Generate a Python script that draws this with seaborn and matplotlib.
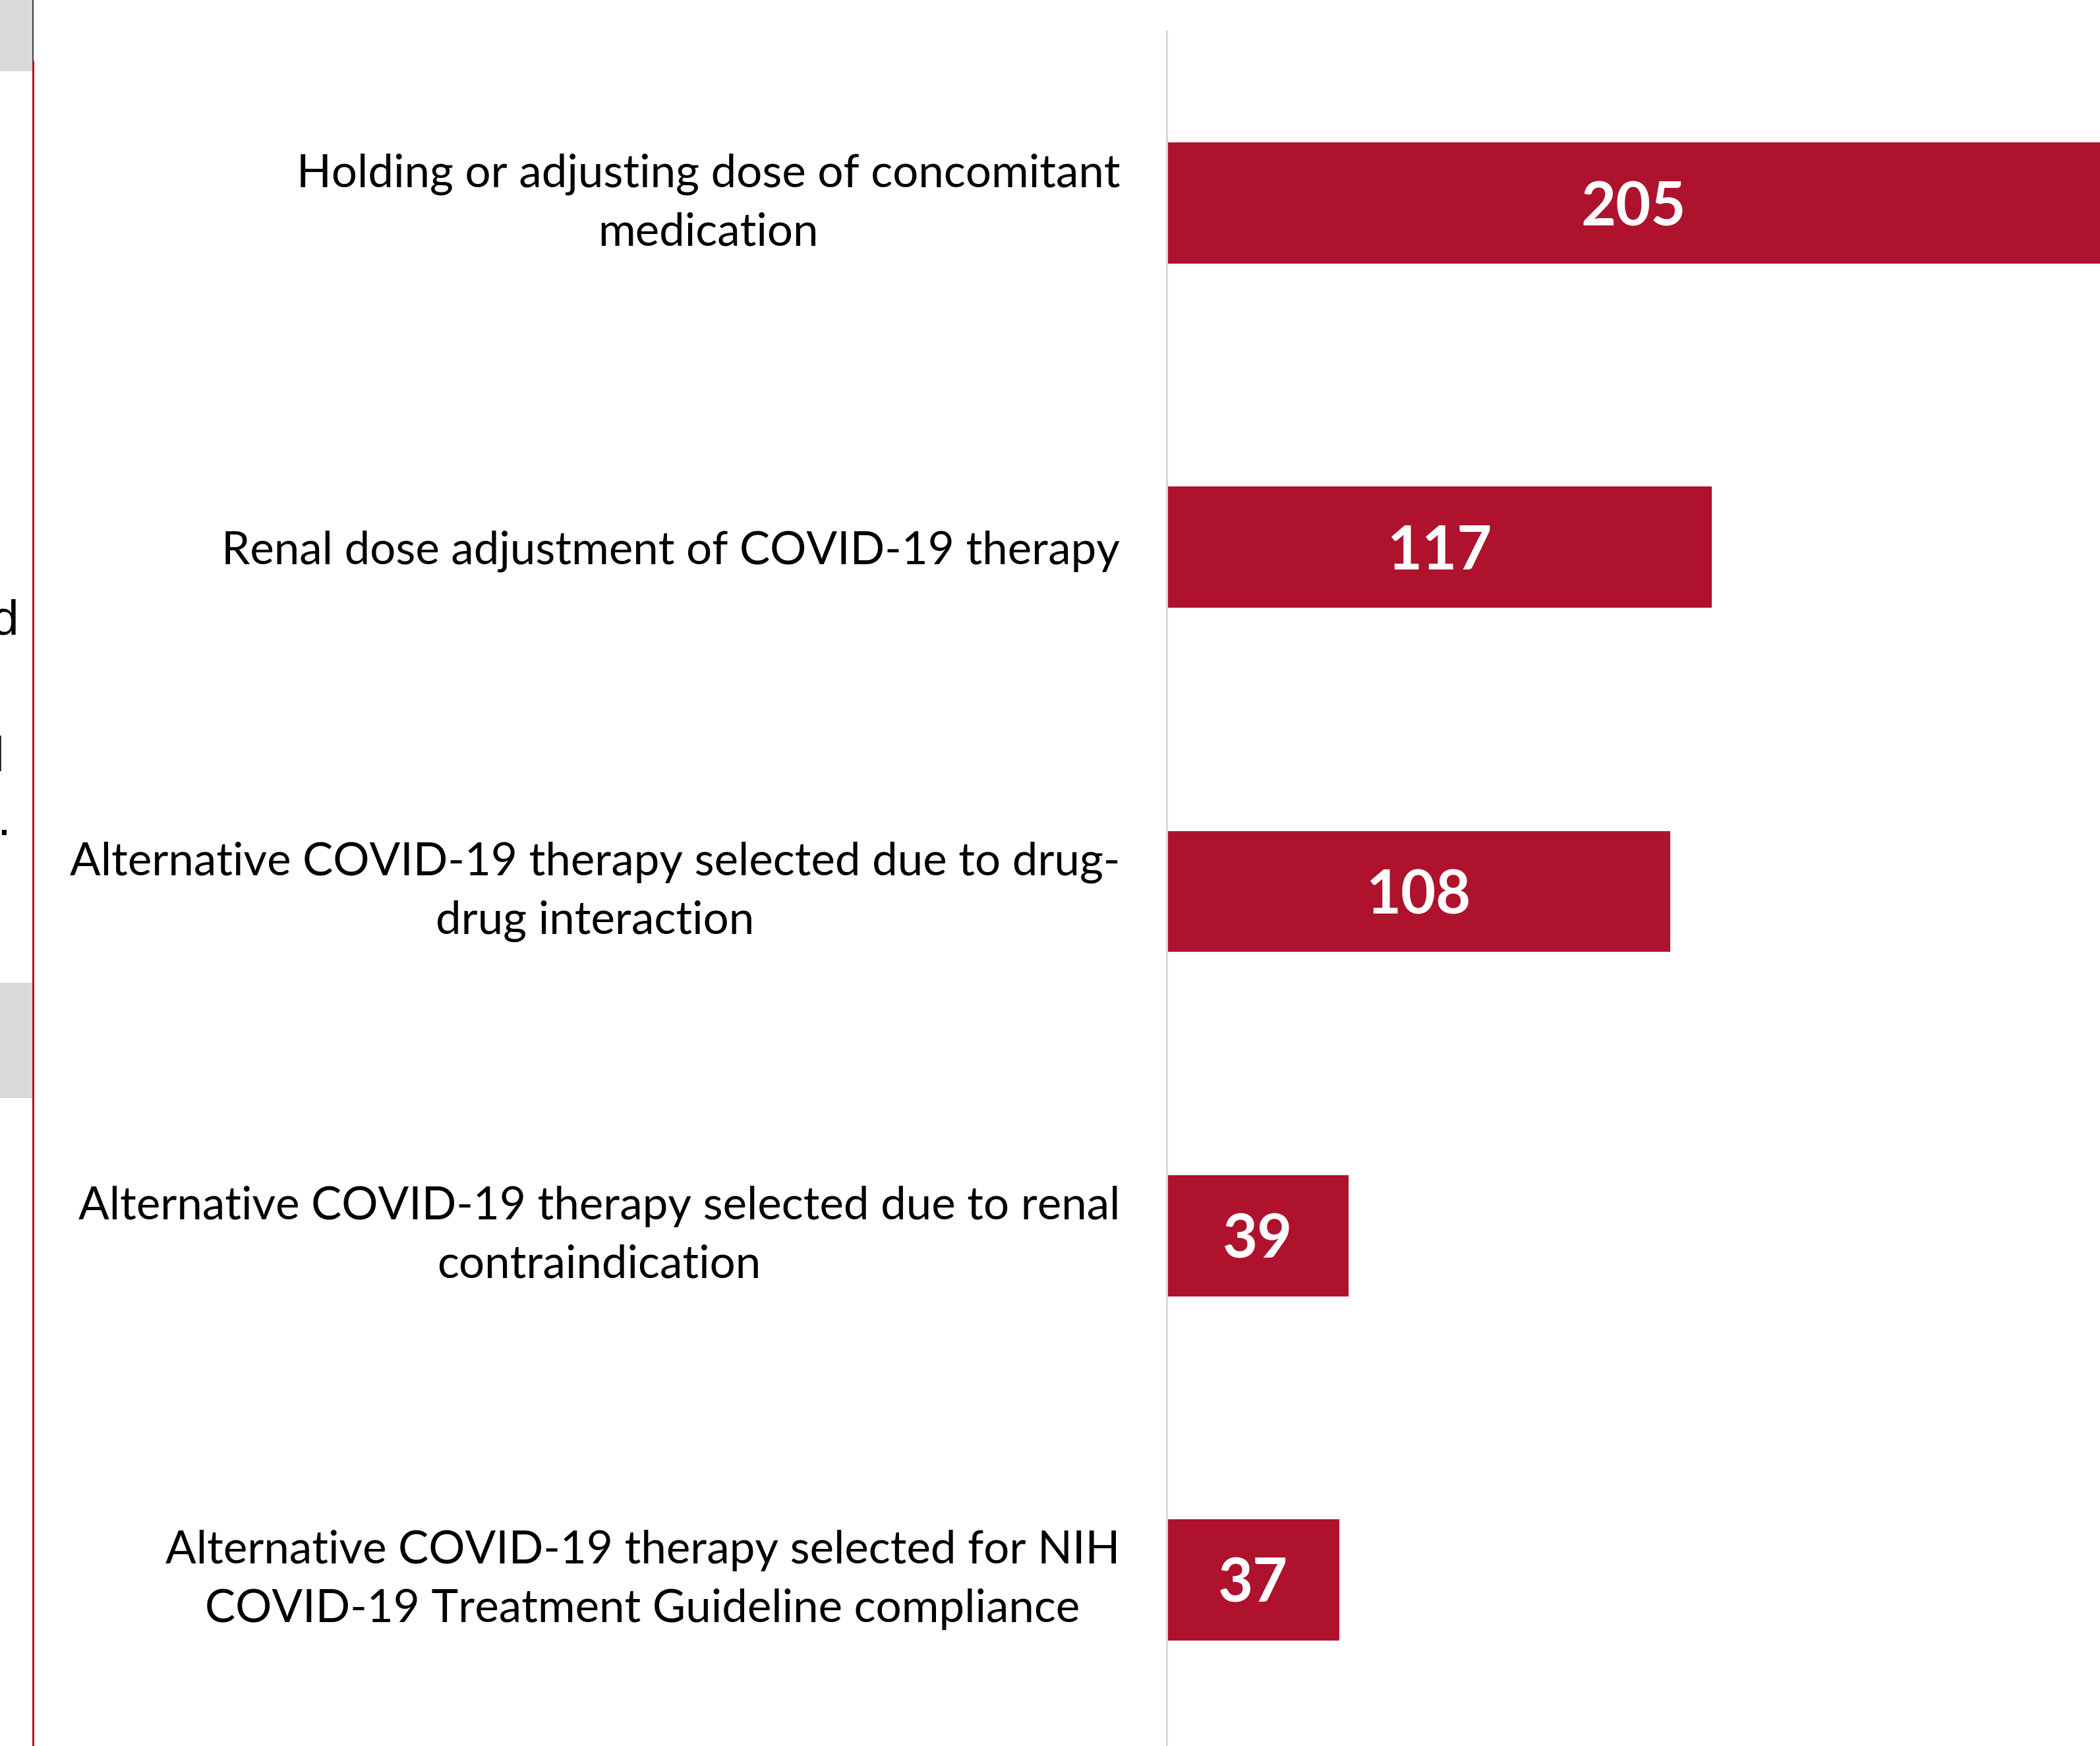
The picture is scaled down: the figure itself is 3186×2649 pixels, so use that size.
import matplotlib
matplotlib.use("Agg")
import matplotlib.pyplot as plt
import seaborn as sns
import pandas as pd
from matplotlib.patches import Rectangle
from matplotlib.lines import Line2D

categories = [
    "Holding or adjusting dose of concomitant\nmedication",
    "Renal dose adjustment of COVID-19 therapy",
    "Alternative COVID-19 therapy selected due to drug-\ndrug interaction",
    "Alternative COVID-19 therapy selected due to renal\ncontraindication",
    "Alternative COVID-19 therapy selected for NIH\nCOVID-19 Treatment Guideline compliance",
]
counts = [205, 117, 108, 39, 37]

BAR_COLOR = "#AE122D"

sns.set_theme(style="white")
plt.rcParams["font.family"] = ["Lato", "DejaVu Sans"]

W, H = 3186, 2649
fig = plt.figure(figsize=(W / 100, H / 100), dpi=100)
fig.patch.set_facecolor("white")

ax_left = 1770 / W
ax_top = 47
ax_bot = 2658
ax = fig.add_axes([ax_left, (H - ax_bot) / H, 1 - ax_left, (ax_bot - ax_top) / H])

df = pd.DataFrame({"category": categories, "count": counts})
sns.barplot(data=df, x="count", y="category", orient="h", color=BAR_COLOR,
            width=0.352, saturation=1, linewidth=0, ax=ax)

ax.set_xlim(0, (W - 1770) / 7.07)
ax.set_xlabel("")
ax.set_ylabel("")
ax.set_xticks([])
for s in ["top", "right", "bottom"]:
    ax.spines[s].set_visible(False)
ax.spines["left"].set_color("#d9d9d9")
ax.spines["left"].set_linewidth(2.2)

ax.tick_params(axis="y", length=0, pad=51)
for lbl in ax.get_yticklabels():
    lbl.set_fontsize(49.7)
    lbl.set_multialignment("center")
    lbl.set_linespacing(1.5)
    lbl.set_color("black")
    if "\n" in lbl.get_text():
        lbl.set_va("center")

for c in ax.containers:
    texts = ax.bar_label(c, label_type="center", color="white", fontsize=66,
                         fontweight="bold")
    for t in texts:
        t.set_va("center_baseline")

# cropped fragments of neighbouring panel on the left edge
fig.patches.append(Rectangle((0, 1 - 108 / H), 49 / W, 108 / H,
                             transform=fig.transFigure, facecolor="#d9d9d9",
                             edgecolor="none", zorder=0))
fig.patches.append(Rectangle((0, 1 - 1666 / H), 49 / W, (1666 - 1491) / H,
                             transform=fig.transFigure, facecolor="#d9d9d9",
                             edgecolor="none", zorder=0))
fig.lines.append(Line2D([50.2 / W, 50.2 / W], [0, 1 - 93 / H],
                        transform=fig.transFigure, color="#AE122D", lw=2.2))
fig.lines.append(Line2D([49.5 / W, 49.5 / W], [1 - 93 / H, 1],
                        transform=fig.transFigure, color="#404040", lw=1.5))
frag = dict(ha="right", va="baseline", fontsize=54, family=["Liberation Sans"],
            color="black")
fig.text(28 / W, 1 - 963 / H, "d", **frag)
fig.text(7 / W, 1 - 1170 / H, "l", **frag)
fig.text(16 / W, 1 - 1267 / H, ".", **frag)

fig.savefig("out.png", dpi=100)
